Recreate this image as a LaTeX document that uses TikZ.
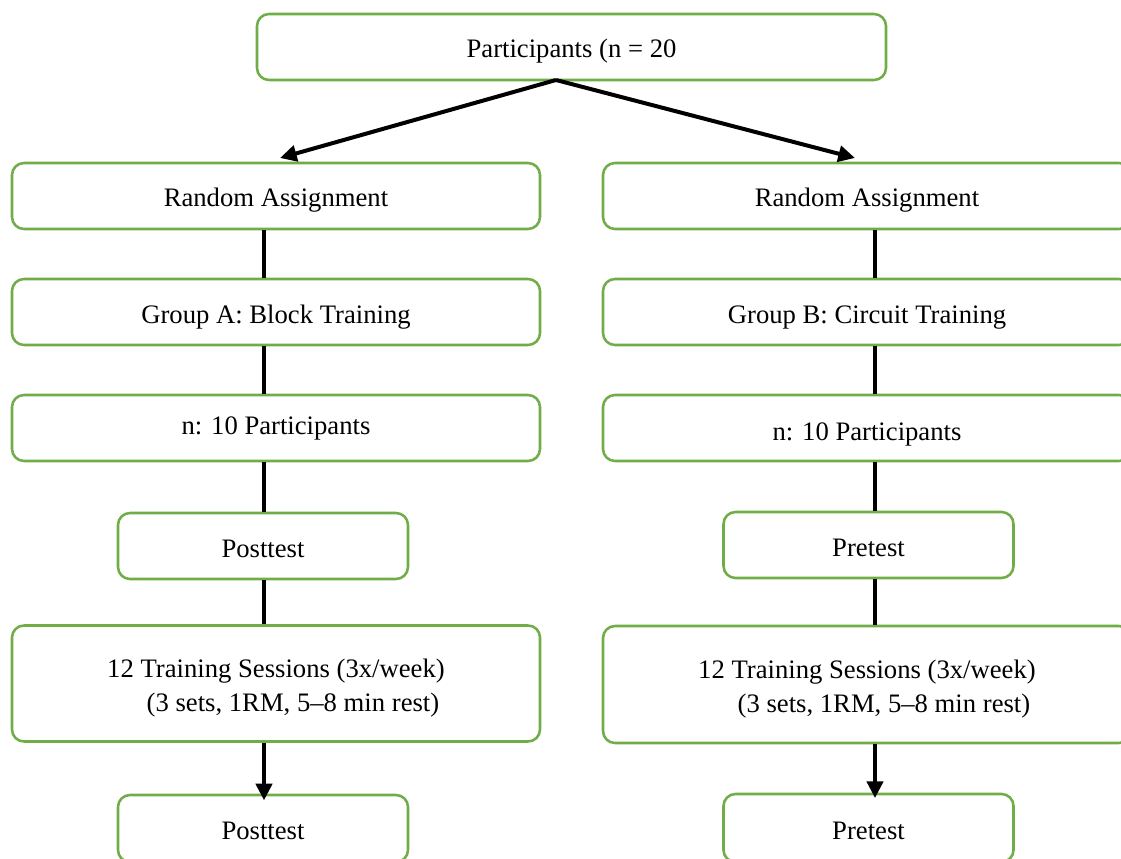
\documentclass[tikz,border=0pt]{standalone}
\usepackage{fontspec}
\setmainfont{Liberation Serif}
\usetikzlibrary{arrows.meta}
\definecolor{boxgreen}{HTML}{70AD47}
\tikzset{
  box/.style={draw=boxgreen, line width=1.9pt, rounded corners=9pt, inner sep=0pt,
    align=center, font=\fontsize{20}{25.5}\selectfont, fill=white},
  one/.style={text height=20pt, text depth=3.5pt},
  wide/.style={box, one, minimum width=396pt, minimum height=49.5pt},
  narrow/.style={box, one, minimum width=217.5pt, minimum height=49.5pt},
  tall/.style={box, minimum width=396pt, minimum height=87pt},
  conn/.style={line width=3pt, black},
  arr/.style={conn, -{Triangle[length=12.5pt,width=12pt]}}
}
\begin{document}
\begin{tikzpicture}[x=0.75pt, y=-0.75pt]
\useasboundingbox (0,0) rectangle (1121,859);
\clip (0,0) rectangle (1121,859);
\fill[white] (0,0) rectangle (1121,859);

% top
\node[box, one, minimum width=471.75pt, minimum height=49.5pt] (top) at (571.5,47) {Participants (n = 20};

% left column
\node[wide] (lra) at (276,196) {Random Assignment};
\node[wide, text height=21.5pt] (lga) at (276,312) {Group A: Block Training};
\node[wide, text height=14pt, text depth=4.3pt] (ln) at (276,428) {n: 10 Participants};
\node[narrow] (lpost) at (263,546) {Posttest};
\node[tall] (ltr) at (276,683.5) {\rule{0pt}{21.5pt}12 Training Sessions (3x/week)\\\hspace*{25.5pt}(3 sets, 1RM, 5--8 min rest)};
\node[narrow, minimum height=50.25pt] (lpost2) at (263,828.5) {Posttest};

% right column
\node[wide] (rra) at (867,196) {Random Assignment};
\node[wide, text height=21.5pt] (rgb) at (867,312) {Group B: Circuit Training};
\node[wide, text height=22.5pt, text depth=3.5pt] (rn) at (867,428) {n: 10 Participants};
\node[narrow] (rpre) at (868.5,545) {Pretest};
\node[tall, minimum height=87.75pt] (rtr) at (867,684.5) {\rule{0pt}{21.5pt}12 Training Sessions (3x/week)\\\hspace*{25.5pt}(3 sets, 1RM, 5--8 min rest)};
\node[narrow, minimum height=51pt] (rpre2) at (868.5,828) {Pretest};

% column guide coordinates
\coordinate (cl) at (264,0);
\coordinate (cr) at (875,0);
\coordinate (split) at (556,80);
\coordinate (tipl) at (280,158);
\coordinate (tipr) at (855,158);

% top arrows
\draw[arr] (split) -- (tipl);
\draw[arr] (split) -- (tipr);

% left connectors
\draw[conn] (lra.south -| cl) -- (lga.north -| cl);
\draw[conn] (lga.south -| cl) -- (ln.north -| cl);
\draw[conn] (ln.south -| cl) -- (lpost.north -| cl);
\draw[conn] (lpost.south -| cl) -- (ltr.north -| cl);
\coordinate (ltip) at ([yshift=-5]lpost2.north -| cl);
\draw[arr] (ltr.south -| cl) -- (ltip);

% right connectors
\draw[conn] (rra.south -| cr) -- (rgb.north -| cr);
\draw[conn] (rgb.south -| cr) -- (rn.north -| cr);
\draw[conn] (rn.south -| cr) -- (rpre.north -| cr);
\draw[conn] (rpre.south -| cr) -- (rtr.north -| cr);
\coordinate (rtip) at ([yshift=-4]rpre2.north -| cr);
\draw[arr] (rtr.south -| cr) -- (rtip);
\end{tikzpicture}
\end{document}
